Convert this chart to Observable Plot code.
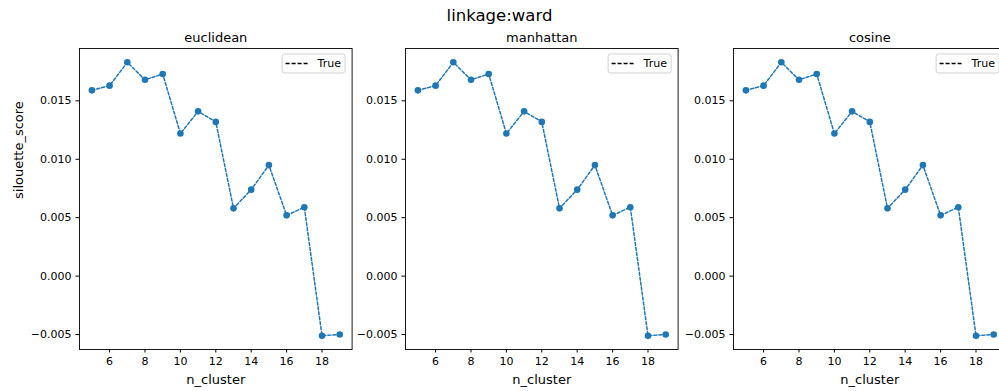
<!DOCTYPE html>
<html>
<head>
<meta charset="utf-8">
<script src="https://cdn.jsdelivr.net/npm/d3@7"></script>
<script src="https://cdn.jsdelivr.net/npm/@observablehq/plot@0.6"></script>
<style>
  html, body { margin: 0; padding: 0; background: #fff; }
  #root { position: relative; width: 999px; height: 391px; overflow: hidden; background: #fff; font-family: "DejaVu Sans", sans-serif; }
  #suptitle { position: absolute; left: 0; width: 999px; top: 6px; text-align: center; font-size: 16.5px; color: #000; line-height: 20px; }
  .panel { position: absolute; top: 0; width: 362px; height: 391px; }
  .panel svg { max-width: none !important; }
</style>
</head>
<body>
<div id="root">
  <div id="suptitle">linkage:ward</div>
</div>
<script>
// ---- data ----
const metrics = ["euclidean", "manhattan", "cosine"];
const nCluster = [5, 6, 7, 8, 9, 10, 11, 12, 13, 14, 15, 16, 17, 18, 19];
const euclideanScores = [0.0159, 0.0163, 0.0183, 0.0168, 0.0173, 0.0122, 0.0141, 0.0132, 0.0058, 0.0074, 0.0095, 0.0052, 0.0059, -0.0051, -0.0050];
const manhattanScores = [0.0159, 0.0163, 0.0183, 0.0168, 0.0173, 0.0122, 0.0141, 0.0132, 0.0058, 0.0074, 0.0095, 0.0052, 0.0059, -0.0051, -0.0050];
const cosineScores    = [0.0159, 0.0163, 0.0183, 0.0168, 0.0173, 0.0122, 0.0141, 0.0132, 0.0058, 0.0074, 0.0095, 0.0052, 0.0059, -0.0051, -0.0050];
const xTicks = [6, 8, 10, 12, 14, 16, 18];
const yTicks = [-0.005, 0.000, 0.005, 0.010, 0.015];
const legendLabel = "True";

const seriesByMetric = {euclidean: euclideanScores, manhattan: manhattanScores, cosine: cosineScores};

// ---- layout ----
const panelLeft = [0, 326, 654];
const W = 362, H = 391, ML = 79, MR = 10.4, MT = 48, MB = 42;
const blue = "#1f77b4";

const root = document.getElementById("root");

metrics.forEach((metric, i) => {
  const data = nCluster.map((n, j) => ({n, score: seriesByMetric[metric][j]}));
  const marks = [
    Plot.axisX({ticks: xTicks, tickSize: 3.5, tickPadding: 4.5, label: null, fontSize: 11}),
    Plot.axisY({ticks: yTicks, tickFormat: d3.format(".3f"), tickSize: 3.5, tickPadding: 4.5, label: null, fontSize: 11}),
    Plot.line(data, {x: "n", y: "score", stroke: blue, strokeWidth: 1.5, strokeDasharray: "3,2"}),
    Plot.dot(data, {x: "n", y: "score", r: 3.3, fill: blue, stroke: "none"}),
    Plot.frame({stroke: "#000", strokeWidth: 0.9}),
    Plot.text([metric], {frameAnchor: "top", lineAnchor: "middle", dy: -11, fontSize: 13, fill: "#000"}),
    Plot.text(["n_cluster"], {frameAnchor: "bottom", lineAnchor: "middle", dy: 30, fontSize: 13, fill: "#000"})
  ];
  if (i === 0) {
    marks.push(Plot.text(["silouette_score"], {frameAnchor: "left", dx: -61, rotate: -90, fontSize: 13, fill: "#000"}));
  }
  const svg = Plot.plot({
    width: W, height: H,
    marginLeft: ML, marginRight: MR, marginTop: MT, marginBottom: MB,
    style: {fontFamily: "DejaVu Sans, sans-serif", fontSize: "11px", color: "#000", background: "transparent", overflow: "visible", maxWidth: "none"},
    x: {domain: [4.3, 19.7]},
    y: {domain: [-0.00628, 0.01948]},
    marks
  });

  // legend box (top-right of axes)
  const s = d3.select(svg);
  const fr = W - MR;
  const g = s.append("g");
  g.append("rect").attr("x", fr - 69.5).attr("y", 54).attr("width", 63).attr("height", 19)
    .attr("rx", 2.5).attr("fill", "#fff").attr("fill-opacity", 0.8).attr("stroke", "#cccccc").attr("stroke-width", 0.9);
  g.append("line").attr("x1", fr - 66).attr("x2", fr - 44).attr("y1", 63.5).attr("y2", 63.5)
    .attr("stroke", "#000").attr("stroke-width", 1.5).attr("stroke-dasharray", "4,2");
  g.append("text").attr("x", fr - 34).attr("y", 63.5).attr("dy", "0.35em").attr("font-size", 11).attr("text-anchor", "start").attr("fill", "#000")
    .attr("font-family", "DejaVu Sans, sans-serif").text(legendLabel);

  const wrap = document.createElement("div");
  wrap.className = "panel";
  wrap.style.left = panelLeft[i] + "px";
  wrap.appendChild(svg);
  root.appendChild(wrap);
});
</script>
</body>
</html>
